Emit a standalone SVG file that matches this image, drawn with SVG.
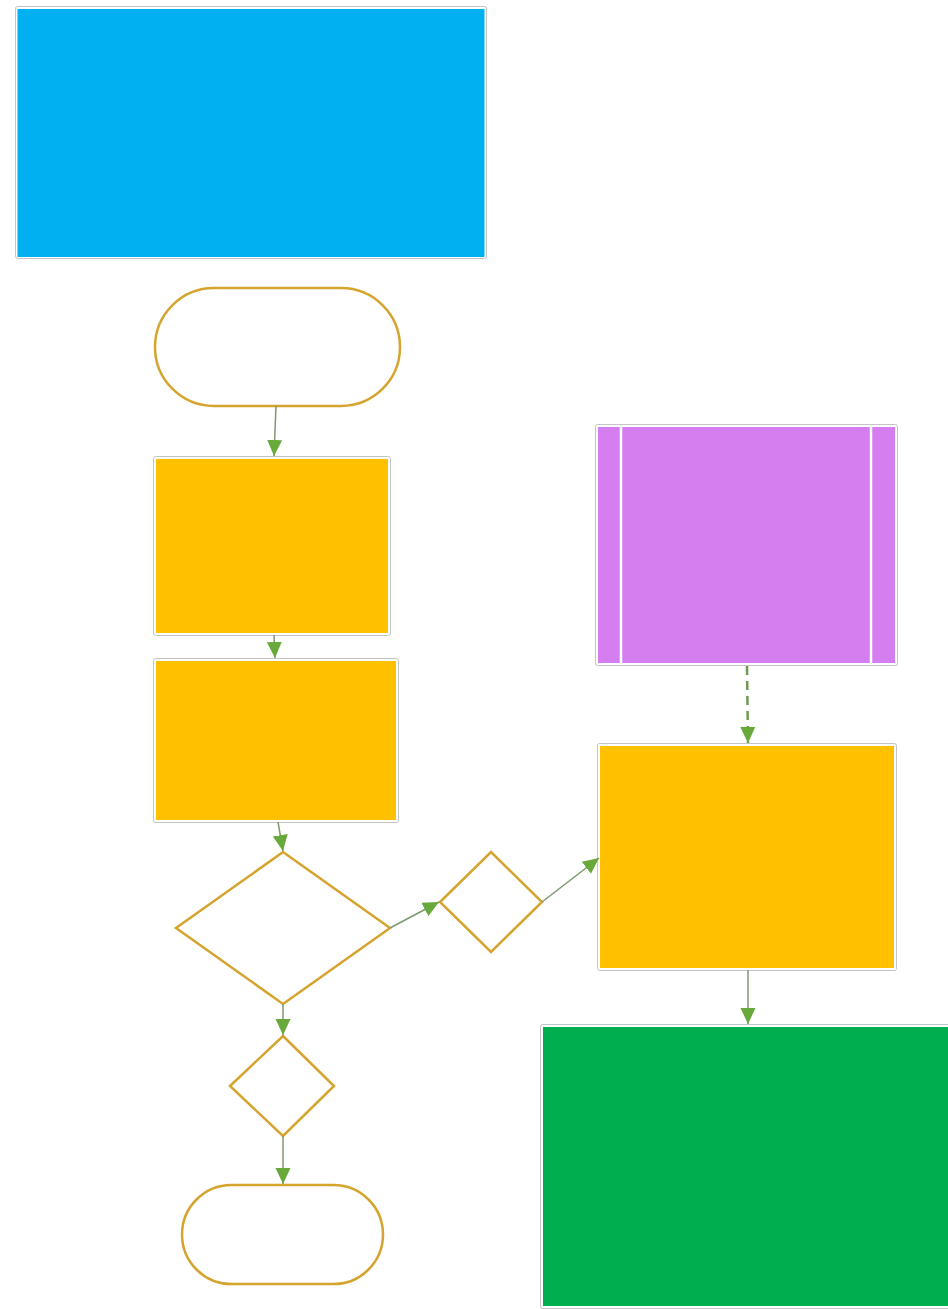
<svg xmlns="http://www.w3.org/2000/svg" width="948" height="1309" viewBox="0 0 948 1309">
<style>
.frame{fill:#ffffff;stroke:#c4c4c4;stroke-width:1}
.term{fill:#ffffff;stroke:#d5a42e;stroke-width:2.5}
.dia{fill:#ffffff;stroke:#d5a42e;stroke-width:2.5;stroke-linejoin:miter}
.conn{fill:none;stroke:#7c9a6c;stroke-width:1.5}
.dash{stroke-dasharray:9,6;stroke:#6f9a55;stroke-width:2.5}
</style>
<defs>
<marker id="ah" viewBox="0 0 16 16" refX="16" refY="8" markerWidth="16" markerHeight="16" markerUnits="userSpaceOnUse" orient="auto">
<path d="M0,0.5 L16,8 L0,15.5 z" fill="#67a93a"/>
</marker>
</defs>
<rect width="948" height="1309" fill="#ffffff"/>
<g id="blue-box">
<rect class="frame" x="15.5" y="6.5" width="471" height="252" rx="2"/>
<rect x="17.5" y="9" width="467" height="248" fill="#00b0f0"/>
</g>
<g id="start">
<rect class="term" x="155" y="288" width="245" height="118" rx="59"/>
</g>
<g id="process-1">
<rect class="frame" x="153.5" y="456.5" width="237" height="179" rx="2"/>
<rect x="156" y="459" width="232" height="174" fill="#ffc000"/>
</g>
<g id="process-2">
<rect class="frame" x="153.5" y="658.5" width="245" height="164" rx="2"/>
<rect x="156" y="661" width="240" height="159" fill="#ffc000"/>
</g>
<g id="decision-1">
<polygon class="dia" points="283,852 390,928 283,1004 176,928"/>
</g>
<g id="decision-2">
<polygon class="dia" points="491,852 542,902 491,952 440,902"/>
</g>
<g id="decision-3">
<polygon class="dia" points="283,1036 334,1086 283,1136 230,1086"/>
</g>
<g id="end">
<rect class="term" x="182" y="1185" width="201" height="99" rx="49.5"/>
</g>
<g id="predefined">
<rect class="frame" x="595.5" y="424.5" width="302" height="241" rx="2"/>
<rect x="598" y="427" width="297" height="236" fill="#d47ef0"/>
<line x1="621" y1="427" x2="621" y2="663" stroke="#ffffff" stroke-width="2.5"/>
<line x1="871" y1="427" x2="871" y2="663" stroke="#ffffff" stroke-width="2.5"/>
</g>
<g id="process-3">
<rect class="frame" x="597.5" y="743.5" width="299" height="227" rx="2"/>
<rect x="600" y="746" width="294" height="222" fill="#ffc000"/>
</g>
<g id="green-box">
<rect class="frame" x="540.5" y="1024.5" width="420" height="284" rx="2"/>
<rect x="543" y="1027" width="410" height="279" fill="#00ae4f"/>
</g>
<g id="connectors">
<path class="conn" d="M276,406 L274,456" marker-end="url(#ah)"/>
<path class="conn" d="M274,635 L275,658" marker-end="url(#ah)"/>
<path class="conn" d="M278,822 L283,851" marker-end="url(#ah)"/>
<path class="conn" d="M390,928 L439,902" marker-end="url(#ah)"/>
<path class="conn" d="M542,902 L599,858" marker-end="url(#ah)"/>
<path class="conn" d="M283,1004 L283,1035" marker-end="url(#ah)"/>
<path class="conn" d="M283,1136 L283,1184" marker-end="url(#ah)"/>
<path class="conn" d="M748,970 L748,1024" marker-end="url(#ah)"/>
<path class="conn dash" d="M747,666 L748,743" marker-end="url(#ah)"/>
</g>
</svg>
